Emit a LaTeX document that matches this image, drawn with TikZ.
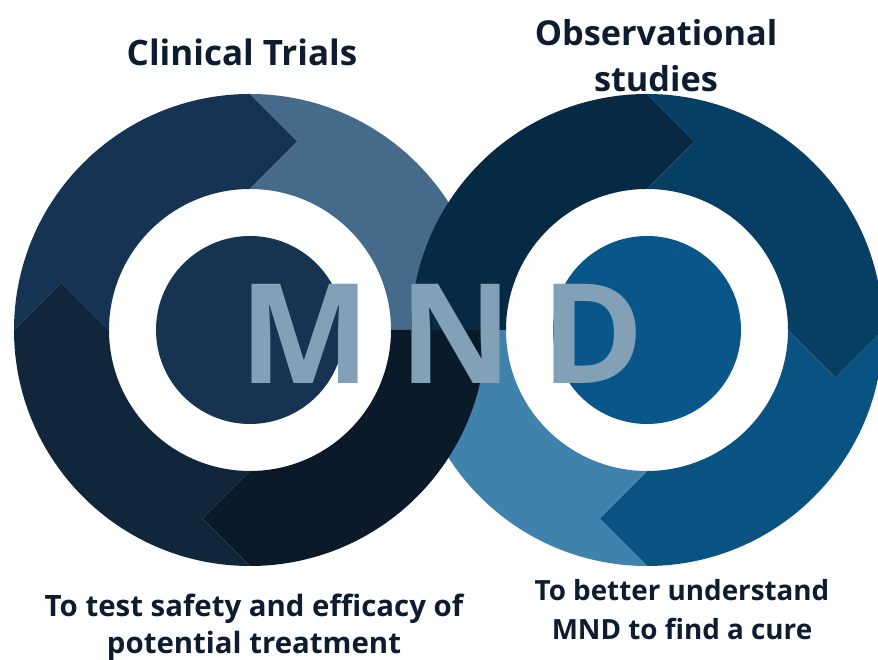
\documentclass[tikz,border=0pt]{standalone}
\usepackage{fontspec}
\setmainfont{Open Sans}
\usetikzlibrary{calc}
\definecolor{ltl}{HTML}{153352}
\definecolor{ltr}{HTML}{466A8A}
\definecolor{lbr}{HTML}{0B1A29}
\definecolor{lbl}{HTML}{11253B}
\definecolor{lcore}{HTML}{163452}
\definecolor{rtl}{HTML}{062A43}
\definecolor{rtr}{HTML}{063F63}
\definecolor{rbr}{HTML}{085382}
\definecolor{rbl}{HTML}{3F83AD}
\definecolor{rcore}{HTML}{09568A}
\definecolor{mndtext}{HTML}{82A1B6}
\definecolor{labeltext}{HTML}{0E1C30}
\tikzset{
  title/.style={anchor=base, align=center, text=labeltext, font=\bfseries\fontsize{35}{46}\selectfont},
  note/.style={anchor=base, align=center, text=labeltext, font=\bfseries\fontsize{29.4}{37}\selectfont}
}
\begin{document}
\begin{tikzpicture}[x=1pt, y=1pt, line join=round]
	\fill[white] (0,0) rectangle (878,660);
	\useasboundingbox (0,0) rectangle (878,660);
	\clip (0,0) rectangle (878,660);
	\coordinate (L) at (250,330);
	\coordinate (R) at (647,330);
	% ring parts: centre/start angle/notch/tip/colour, clockwise
	\foreach \c/\a/\hs/\he/\col in {R/0/47.5/47.5/rbr, R/-90/47.5/0/rbl, L/180/47.5/47.5/ltl, L/90/47.5/0/ltr, L/0/0/47.5/lbr, L/-90/47.5/47.5/lbl, R/180/0/47.5/rtl, R/90/47.5/47.5/rtr}
		\fill[color=\col] ($(\c)+(\a:236)$) arc[start angle=\a, delta angle=-90, radius=236] -- ($(\c)+(\a-90:188.5)+(\a-180:\he)$) -- ($(\c)+(\a-90:141)$) arc[start angle=\a-90, delta angle=90, radius=141] -- ($(\c)+(\a:188.5)+(\a-90:\hs)$) -- cycle;
	\fill[lcore] (L) circle[radius=94];
	\fill[rcore] (R) circle[radius=94];
	\node[anchor=base west, text=mndtext, font=\bfseries\fontsize{139}{142}\selectfont\addfontfeature{LetterSpace=21}] (mnd) at (235.5,276) {MND};
	\node[title] (ct) at (242,594) {Clinical Trials};
	\node[title, font=\bfseries\fontsize{34.3}{46}\selectfont] (os) at (656,568) {Observational\\studies};
	\node[note] (ctnote) at (254,6) {To test safety and efficacy of\\potential treatment};
	\node[note, font=\bfseries\fontsize{27.8}{39}\selectfont] (osnote) at (682,20) {To better understand\\MND to find a cure};
\end{tikzpicture}
\end{document}
